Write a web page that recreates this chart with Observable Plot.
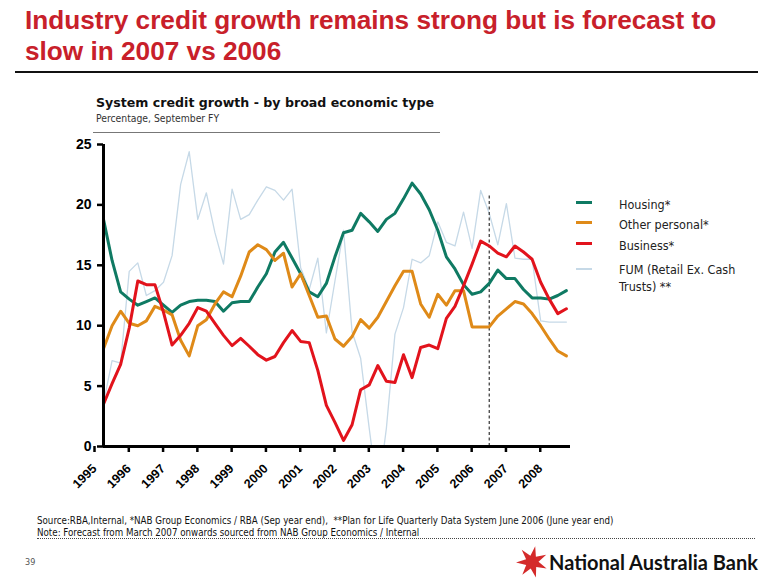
<!DOCTYPE html>
<html>
<head>
<meta charset="utf-8">
<script src="https://cdn.jsdelivr.net/npm/d3@7"></script>
<script src="https://cdn.jsdelivr.net/npm/@observablehq/plot@0.6"></script>
<style>
html,body{margin:0;padding:0;background:#fff;}
#page{position:relative;width:780px;height:587px;overflow:hidden;background:#fff;}
.abs{position:absolute;white-space:nowrap;}
#title{left:25px;top:5px;font-family:"Liberation Sans",sans-serif;font-weight:bold;font-size:26.2px;line-height:31px;color:#c8202a;}
#titleRule{left:15px;top:71px;width:743px;height:2px;background:#111;}
#sub{left:96px;top:95px;font-family:"DejaVu Sans",sans-serif;font-weight:bold;font-size:12.6px;color:#111;}
#sub2{left:96px;top:112px;font-family:"DejaVu Sans Condensed","DejaVu Sans",sans-serif;font-size:10.3px;color:#333;}
#subRule{left:93px;top:132px;width:347px;height:1px;background:#777;}
#chart{left:0;top:130px;}
.leg{font-family:"DejaVu Sans Condensed","DejaVu Sans",sans-serif;font-size:12.5px;color:#222;line-height:17px;left:619px;}
.sw{position:absolute;left:576px;width:16px;}
.foot{font-family:"DejaVu Sans Condensed","DejaVu Sans",sans-serif;font-size:9.7px;color:#111;left:37px;}
#dots{left:37px;top:538px;width:718px;border-top:1px dotted #444;height:0;}
#pg{left:25px;top:557px;font-family:"DejaVu Sans Condensed","DejaVu Sans",sans-serif;font-size:9px;color:#555;}
#nab{left:549px;top:550px;font-family:Lato,"Liberation Sans",sans-serif;font-weight:bold;font-size:20px;color:#111;}
#star{left:515px;top:545px;}
</style>
</head>
<body>
<div id="page">
  <div id="title" class="abs">Industry credit growth remains strong but is forecast to<br>slow in 2007 vs 2006</div>
  <div id="titleRule" class="abs"></div>
  <div id="sub" class="abs">System credit growth - by broad economic type</div>
  <div id="sub2" class="abs">Percentage, September FY</div>
  <div id="subRule" class="abs"></div>
  <div id="chart" class="abs"></div>
  <div id="legend"></div>
  <div class="abs foot" style="top:515px;">Source:RBA,Internal, *NAB Group Economics / RBA (Sep year end),&nbsp; **Plan for Life Quarterly Data System June 2006 (June year end)</div>
  <div class="abs foot" style="top:527px;">Note: Forecast from March 2007 onwards sourced from NAB Group Economics / Internal</div>
  <div id="dots" class="abs"></div>
  <div id="pg" class="abs">39</div>
  <svg id="star" class="abs" width="34" height="34" viewBox="0 0 34 34"></svg>
  <div id="nab" class="abs">National Australia Bank</div>
</div>
<script>
// ---- data (quarterly, September FY, starting 1995) ----
const startYear = 1995;
const years = [1995,1996,1997,1998,1999,2000,2001,2002,2003,2004,2005,2006,2007,2008];
const seriesNames = ["Housing*", "Other personal*", "Business*", "FUM (Retail Ex. Cash Trusts) **"];
const housing = [18.8,15.4,12.8,12.2,11.7,12.0,12.3,11.7,11.1,11.7,12.0,12.1,12.1,12.0,11.2,11.9,12.0,12.0,13.2,14.3,16.1,16.9,15.6,14.3,12.8,12.4,13.5,15.7,17.7,17.9,19.3,18.6,17.8,18.8,19.3,20.5,21.8,20.9,19.6,17.9,15.7,14.7,13.4,12.6,12.8,13.5,14.6,13.9,13.9,13.0,12.3,12.3,12.2,12.5,12.9];
const otherPersonal = [8.1,10.0,11.2,10.2,10.0,10.4,11.6,11.3,10.9,8.8,7.5,10.0,10.5,11.8,12.8,12.4,14.1,16.1,16.7,16.3,15.4,16.0,13.2,14.3,12.5,10.7,10.8,8.9,8.3,9.1,10.5,9.8,10.7,12.0,13.3,14.5,14.5,11.8,10.7,12.6,11.7,12.9,12.9,9.9,9.9,9.9,10.8,11.4,12.0,11.8,11.0,10.0,8.9,7.9,7.5];
const business = [3.5,5.2,6.8,9.8,13.7,13.4,13.4,11.1,8.4,9.2,10.2,11.5,11.2,10.2,9.2,8.35,8.95,8.3,7.6,7.15,7.45,8.6,9.6,8.7,8.6,6.3,3.4,2.0,0.5,1.8,4.7,5.1,6.7,5.4,5.3,7.6,5.7,8.2,8.4,8.1,10.6,11.6,13.3,15.1,17.0,16.6,16.0,15.7,16.6,16.1,15.5,13.6,12.2,11.0,11.4];
const fum = [3.6,7.1,6.9,14.5,15.2,12.5,12.9,13.6,15.8,21.7,24.4,18.8,21.0,17.7,15.1,21.3,18.8,19.2,20.4,21.5,21.2,20.4,21.3,14.8,13.0,15.6,9.4,13.7,17.9,9.5,7.3,1.5,-4.0,1.5,9.3,11.5,15.5,15.2,15.8,18.6,16.9,16.6,19.4,16.4,21.2,19.3,16.7,20.1,15.6,15.5,15.5,10.4,10.3,10.3,10.3];
const forecastStart = [2006.25];
const forecastTop = 20.8;
const yTicks = [0,5,10,15,20,25];
const colors = ["#0f7a63", "#df8a18", "#e2131c", "#c6d9e7"];

const rows = (vals) => vals.map((v, i) => ({t: startYear + i / 4, v}));

const chart = Plot.plot({
  width: 600,
  height: 380,
  marginLeft: 103,
  marginRight: 30,
  marginTop: 14,
  marginBottom: 64,
  style: {background: "transparent", fontFamily: "'Liberation Sans', Arial, sans-serif", color: "#000", overflow: "visible"},
  x: {domain: [1995, 2008.62]},
  y: {domain: [0, 25]},
  marks: [
    Plot.line(rows(fum), {x: "t", y: "v", stroke: colors[3], strokeWidth: 1.3, clip: true}),
    Plot.ruleX(forecastStart, {y1: 0, y2: forecastTop, stroke: "#333", strokeWidth: 1.2, strokeDasharray: "3,2.5"}),
    Plot.line(rows(housing), {x: "t", y: "v", stroke: colors[0], strokeWidth: 3}),
    Plot.line(rows(otherPersonal), {x: "t", y: "v", stroke: colors[1], strokeWidth: 3}),
    Plot.line(rows(business), {x: "t", y: "v", stroke: colors[2], strokeWidth: 3}),
    Plot.ruleY([0], {stroke: "#000", strokeWidth: 3}),
    Plot.ruleX([1995], {stroke: "#000", strokeWidth: 3}),
    Plot.axisY({ticks: yTicks, tickSize: 6, tickPadding: 6, strokeWidth: 2.5, label: null}),
    Plot.axisX({ticks: years, tickFormat: d => String(d), tickSize: 6, tickPadding: 14, strokeWidth: 2.5,
                tickRotate: -45, textAnchor: "end", dx: -9, label: null})
  ]
});
document.getElementById("chart").appendChild(chart);

// enlarge and embolden tick labels (rotated ones are the x axis)
chart.querySelectorAll("text").forEach(t => {
  const rotated = (t.getAttribute("transform") || "").includes("rotate");
  t.style.fontSize = rotated ? "12.5px" : "14px";
  t.style.fontWeight = "bold";
});

// legend
const legY = [202, 222, 243, 269];
const legTop = [196, 216, 237, 261];
const legend = document.getElementById("legend");
seriesNames.forEach((name, i) => {
  const sw = document.createElement("div");
  sw.className = "sw";
  const h = i === 3 ? 1.5 : 3;
  sw.style.top = (legY[i] - h / 2) + "px";
  sw.style.height = h + "px";
  sw.style.background = colors[i];
  legend.appendChild(sw);
  const t = document.createElement("div");
  t.className = "abs leg";
  t.style.top = legTop[i] + "px";
  t.innerHTML = i === 3 ? "FUM (Retail Ex. Cash<br>Trusts) **" : name;
  legend.appendChild(t);
});

// decorative star logo
const star = document.getElementById("star");
const pts = [];
const n = 7;
for (let k = 0; k < n * 2; k++) {
  const r = k % 2 === 0 ? 16 : 6.5;
  const a = -Math.PI / 2 + k * Math.PI / n + 0.2;
  pts.push((17 + r * Math.cos(a)).toFixed(1) + "," + (17 + r * Math.sin(a)).toFixed(1));
}
star.innerHTML = `<polygon points="${pts.join(" ")}" fill="#d42a2a"/>`;
</script>
</body>
</html>
